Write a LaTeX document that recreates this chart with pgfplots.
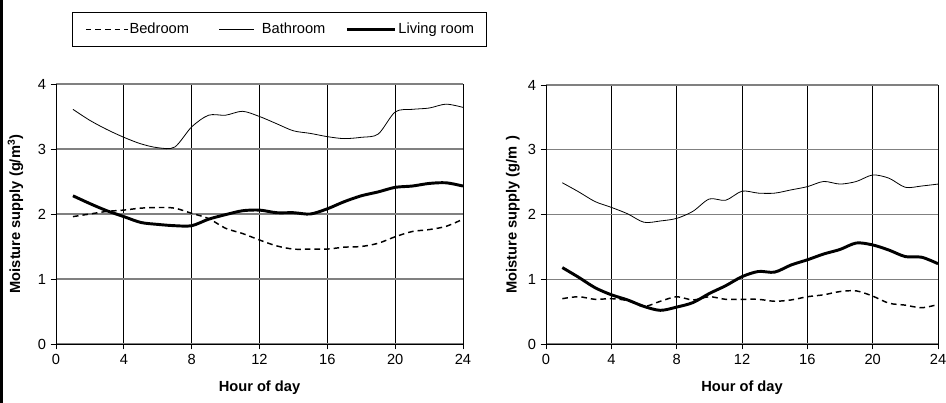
\documentclass[border=0pt]{standalone}
\usepackage{fontspec}
\setmainfont{Liberation Sans}
\usepackage{pgfplots}
\usepackage{pgfplotstable}
\pgfplotsset{compat=1.18}

\pgfplotstableread{
h bed bath liv
1 1.96 3.61 2.28
2 2.00 3.44 2.16
3 2.04 3.30 2.05
4 2.06 3.18 1.96
5 2.09 3.08 1.87
6 2.10 3.02 1.84
7 2.09 3.03 1.82
8 2.01 3.34 1.82
9 1.93 3.52 1.92
10 1.78 3.52 1.99
11 1.70 3.58 2.05
12 1.60 3.50 2.06
13 1.51 3.39 2.02
14 1.46 3.28 2.02
15 1.46 3.24 2.00
16 1.46 3.19 2.08
17 1.49 3.16 2.19
18 1.50 3.18 2.28
19 1.55 3.23 2.34
20 1.65 3.57 2.41
21 1.73 3.61 2.43
22 1.76 3.63 2.47
23 1.81 3.69 2.48
24 1.92 3.64 2.43
}\lefttab

\pgfplotstableread{
h bed bath liv
1 0.70 2.49 1.18
2 0.73 2.35 1.03
3 0.69 2.20 0.87
4 0.70 2.11 0.76
5 0.67 2.01 0.68
6 0.58 1.88 0.58
7 0.66 1.90 0.52
8 0.73 1.94 0.57
9 0.68 2.05 0.64
10 0.73 2.24 0.78
11 0.69 2.22 0.90
12 0.69 2.36 1.04
13 0.69 2.33 1.12
14 0.66 2.33 1.11
15 0.68 2.38 1.22
16 0.73 2.43 1.30
17 0.76 2.51 1.39
18 0.81 2.47 1.46
19 0.82 2.51 1.56
20 0.74 2.61 1.53
21 0.63 2.56 1.45
22 0.60 2.42 1.35
23 0.56 2.44 1.34
24 0.61 2.47 1.24
}\righttab

\pgfplotsset{
  mystyle/.style={
    scale only axis,
    anchor=south west,
    xmin=0, xmax=24, ymin=0, ymax=4,
    xtick={0,4,...,24}, ytick={0,1,2,3,4},
    axis x line*=bottom, axis y line*=left,
    axis line style={black, line width=0.7pt},
    tick align=outside, major tick length=4pt,
    tick style={black, line width=0.7pt},
    xmajorgrids, ymajorgrids,
    x grid style={black, line width=0.7pt},
    y grid style={gray, line width=0.8pt},
    /pgf/number format/assume math mode=true,
    tick label style={font=\fontsize{11}{13}\selectfont},
    label style={font=\bfseries\fontsize{11}{13}\selectfont},
    xlabel={Hour of day},
    clip=false,
  },
  bedst/.style={black, line width=1.1pt, dash pattern=on 4.2pt off 3pt, smooth, tension=0.5},
  bathst/.style={black, line width=0.6pt, smooth, tension=0.5},
  livst/.style={black, line width=2.2pt, smooth, tension=0.5},
  legA/.style={legend image code/.code={
    \draw[##1] (0pt,0) -- (31.5pt,0);}},
  legB/.style={legend image code/.code={
    \draw[##1] (0pt,0) -- (26.25pt,0);}},
  legC/.style={legend image code/.code={
    \draw[##1] (0pt,0) -- (36pt,0);}},
}

\begin{document}
\begin{tikzpicture}
\useasboundingbox (0,0) rectangle (709.5pt,302.25pt);
\fill[black] (0,0) rectangle (2.2pt,302.25pt);

\begin{axis}[mystyle,
  at={(42pt,44.25pt)}, width=305.25pt, height=195pt,
  ylabel={Moisture supply (g/m\textsuperscript{3})},
  ylabel style={at={(axis description cs:-0.0995,0.5)}, anchor=center},
  xlabel style={at={(axis description cs:0.5,-0.169)}, anchor=center},
  legend columns=3,
  legend style={at={(axis description cs:0.0393,1.2769)}, anchor=north west,
    draw=black, line width=0.6pt, inner xsep=9.5pt, inner ysep=8pt,
    font=\fontsize{11}{13}\selectfont,
    nodes={inner sep=0pt},
    column sep=0pt},
]
\addplot[bedst, legA] table[x=h, y=bed] {\lefttab};
\addlegendentry{\rule{0.75pt}{0pt}Bedroom\rule{22.5pt}{0pt}}
\addplot[bathst, legB] table[x=h, y=bath] {\lefttab};
\addlegendentry{\rule{5.25pt}{0pt}Bathroom\rule{15pt}{0pt}}
\addplot[livst, legC] table[x=h, y=liv] {\lefttab};
\addlegendentry{\rule{1.5pt}{0pt}Living room}
\end{axis}

\begin{axis}[mystyle,
  at={(409.5pt,44.25pt)}, width=294pt, height=194.25pt,
  ylabel={Moisture supply (g/m\phantom{\textsuperscript{3}})},
  ylabel style={at={(axis description cs:-0.0867,0.5)}, anchor=center},
  xlabel style={at={(axis description cs:0.5,-0.170)}, anchor=center},
]
\addplot[bedst] table[x=h, y=bed] {\righttab};
\addplot[bathst] table[x=h, y=bath] {\righttab};
\addplot[livst] table[x=h, y=liv] {\righttab};
\end{axis}
\end{tikzpicture}
\end{document}
